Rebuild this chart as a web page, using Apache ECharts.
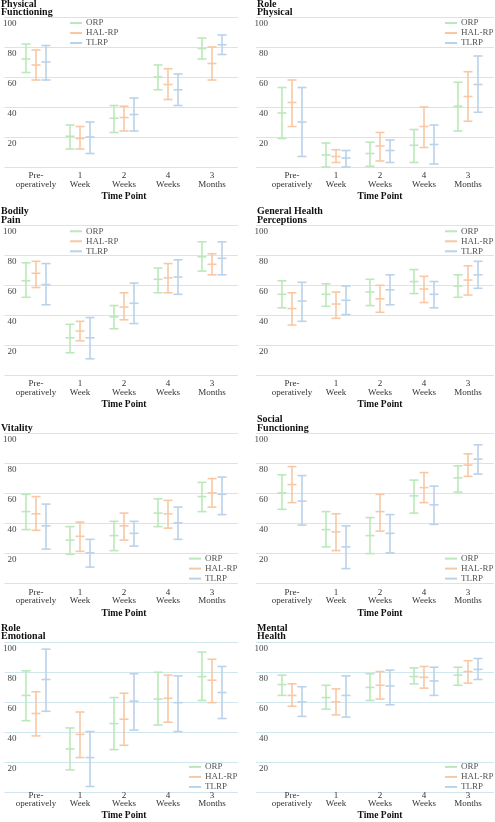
<!DOCTYPE html>
<html><head><meta charset="utf-8">
<script src="https://cdn.jsdelivr.net/npm/echarts@6/dist/echarts.min.js"></script>
<style>html,body{margin:0;padding:0;background:#fff;font-family:'Liberation Serif',serif}#c{width:495px;height:822px}</style>
</head><body><div id="c"></div><script>
// ---------- data ----------
const categories = ['Pre-\noperatively', '1\nWeek', '2\nWeeks', '4\nWeeks', '3\nMonths'];
const groups = ['ORP', 'HAL-RP', 'TLRP'];
const yTicks = [0, 20, 40, 60, 80, 100];
const panelTitles = ['Physical\nFunctioning', 'Role\nPhysical', 'Bodily\nPain', 'General Health\nPerceptions',
  'Vitality', 'Social\nFunctioning', 'Role\nEmotional', 'Mental\nHealth'];
const xAxisName = 'Time Point';

// each entry: [mean - SD, mean, mean + SD] per time point
const physFuncORP  = [[63,72,82],[12,20.5,28],[23,32.5,41],[51.5,60,68],[72,79,86]];
const physFuncHAL  = [[58,68,78],[12,19,27],[24,33,40.5],[45,55,65.5],[58,69,80]];
const physFuncTLRP = [[58,70,81],[9,20,30],[24,35,46],[41,51.5,62],[75,81.5,88]];

const rolePhysORP  = [[19,36,53],[0,8,16],[0.5,9,16.5],[3,14.5,25],[24,40.5,56.5]];
const rolePhysHAL  = [[27,43,58],[3,7,11.5],[4,14,23],[13,27,40],[30.5,47,63.5]];
const rolePhysTLRP = [[7,30,53],[0,6,11],[3,11,18],[2,15,28],[36.5,55,74]];

const bodPainORP  = [[52,63,75],[15,25,34],[31,39,46.5],[55,64,71.5],[69.5,79,89]];
const bodPainHAL  = [[58.5,68,76],[23,29.5,36],[37,45.5,55],[55,65,74.5],[67,74,81]];
const bodPainTLRP = [[47,60.5,74.5],[11,25,38.5],[34.5,48,61.5],[54,65.5,77],[67,78,89]];

const genHealthORP  = [[45,54,63],[46,54,61],[46.5,55.5,64],[54.5,62.5,70.5],[52,59.5,67]];
const genHealthHAL  = [[33.5,44.5,55],[38,47.5,55.5],[42,51,60],[48.5,57.5,66],[53.5,63.5,73]];
const genHealthTLRP = [[36,49.5,62],[40.5,50,59.5],[47,57,67],[45,54,62.5],[58,67,76]];

const vitalityORP  = [[36,48,59.5],[19.5,29,38],[22,32,41.5],[38,47,56.5],[48,58,67.5]];
const vitalityHAL  = [[35.5,46.5,58],[21.5,31.5,41],[29,38.5,47],[37,46.5,55.5],[51,60.5,70]];
const vitalityTLRP = [[23,38.5,53],[11,20.5,29.5],[25,33.5,41.5],[29.5,40.5,51],[46,59.5,71]];

const socFuncORP  = [[49.5,60.5,72.5],[24.5,36,48],[20,32,44],[47,58.5,69],[61,70.5,78.5]];
const socFuncHAL  = [[54,66,78],[22,34.5,46.5],[35,48,59.5],[54,64,74],[71.5,79,86.5]];
const socFuncTLRP = [[39,55,72],[10,24.5,38.5],[20.5,33.5,46],[39.5,52.5,65],[73,83,92.5]];

const roleEmoORP  = [[45.5,63,80],[11.5,26,40.5],[25.5,43.5,61.5],[42.5,60.5,79],[59.5,76,93]];
const roleEmoHAL  = [[35,50.5,65.5],[20,36,51.5],[28.5,46.5,64.5],[44.5,61,77],[58,73.5,88]];
const roleEmoTLRP = [[52,74,95],[0,20,38],[39,59,78],[38,58,76.5],[47,65,83]];

const mentHealthORP  = [[63,70.5,77],[53.5,61.5,70],[59.5,68.5,78],[71,76,82],[70,77,82.5]];
const mentHealthHAL  = [[55.5,63,71],[49.5,58.5,67.5],[60.5,70,79.5],[68,75.5,83],[71.5,79.5,87]];
const mentHealthTLRP = [[48.5,58.5,69],[48,63,76.5],[56.5,69.5,80.5],[63,73,82.5],[74,81,88.5]];

const panelData = [
  [physFuncORP, physFuncHAL, physFuncTLRP],
  [rolePhysORP, rolePhysHAL, rolePhysTLRP],
  [bodPainORP, bodPainHAL, bodPainTLRP],
  [genHealthORP, genHealthHAL, genHealthTLRP],
  [vitalityORP, vitalityHAL, vitalityTLRP],
  [socFuncORP, socFuncHAL, socFuncTLRP],
  [roleEmoORP, roleEmoHAL, roleEmoTLRP],
  [mentHealthORP, mentHealthHAL, mentHealthTLRP]
];

// ---------- style / layout ----------
const font = 'Liberation Serif';
const colors = ['#bbe8bb', '#f8c8a4', '#bad2ea'];
const offsets = [-10, 0, 10];
const gridColor = '#d2e6ee';
const legendPos = ['tl', 'tr', 'tl', 'tr', 'br', 'br', 'br', 'br'];

const option = {
  animation: false,
  backgroundColor: '#fff',
  textStyle: { fontFamily: font },
  title: [], legend: [], grid: [], xAxis: [], yAxis: [], series: []
};

function makeRender(offset, color) {
  return function (params, api) {
    const c = api.value(0);
    const lo = api.coord([c, api.value(1)]);
    const m = api.coord([c, api.value(2)]);
    const hi = api.coord([c, api.value(3)]);
    const x = lo[0] + offset, w = 4.5;
    const st = { stroke: color, lineWidth: 1.6, fill: null };
    const ln = (x1, y1, x2, y2) => ({ type: 'line', shape: { x1, y1, x2, y2 }, style: st });
    return { type: 'group', children: [
      ln(x, lo[1], x, hi[1]),
      ln(x - w, lo[1], x + w, lo[1]),
      ln(x - w, hi[1], x + w, hi[1]),
      ln(x - w, m[1], x + w, m[1])
    ] };
  };
}

for (let p = 0; p < 8; p++) {
  const r = Math.floor(p / 2), c = p % 2;
  const top = 17 + r * 208.3;
  const left = 256 * c;
  const nLines = panelTitles[p].split('\n').length;
  option.title.push({
    text: panelTitles[p], left: left + 1, top: Math.max(0, top - 8.5 * nLines - 1), padding: 0,
    textStyle: { fontFamily: font, fontSize: 10, fontWeight: 'bold', color: '#111', lineHeight: 8.5 }
  });
  // grid A: gridlines + y labels (full width)
  const gA = option.grid.length;
  option.grid.push({ left: left, top: top, width: 238, height: 150 });
  option.xAxis.push({ gridIndex: gA, type: 'value', min: 0, max: 1, show: false });
  option.yAxis.push({
    gridIndex: gA, type: 'value', min: yTicks[0], max: yTicks[yTicks.length - 1], interval: yTicks[1] - yTicks[0],
    axisLine: { show: false }, axisTick: { show: false },
    splitLine: { show: true, lineStyle: { color: gridColor, width: 1 } },
    axisLabel: { inside: true, align: 'right', margin: 12, verticalAlign: 'top', padding: [2, 0, 0, 0],
      showMinLabel: false, fontFamily: font, fontSize: 9, color: '#444' }
  });
  // grid B: categories + data
  const gB = option.grid.length;
  option.grid.push({ left: left + 14, top: top, width: 220, height: 150 });
  option.xAxis.push({
    gridIndex: gB, type: 'category', data: categories,
    axisLine: { show: false }, axisTick: { show: false }, splitLine: { show: false },
    axisLabel: { margin: 4.5, fontFamily: font, fontSize: 9, color: '#333', lineHeight: 8.5, interval: 0 },
    name: xAxisName, nameLocation: 'middle', nameGap: 24.5,
    nameTextStyle: { fontFamily: font, fontSize: 9.5, fontWeight: 'bold', color: '#111' }
  });
  option.yAxis.push({ gridIndex: gB, type: 'value', min: 0, max: 100, show: false });
  for (let g = 0; g < 3; g++) {
    option.series.push({
      type: 'custom', name: groups[g], xAxisIndex: gB, yAxisIndex: gB,
      itemStyle: { color: colors[g] },
      renderItem: makeRender(offsets[g], colors[g]),
      encode: { x: 0, y: [1, 2, 3] },
      data: panelData[p][g].map((d, i) => [i, d[0], d[1], d[2]])
    });
  }
  const lp = legendPos[p];
  const lLeft = left + (lp === 'tl' ? 70 : 189);
  const lTop = top + (lp[0] === 't' ? 6 : 125) - 5;
  option.legend.push({
    orient: 'vertical', left: lLeft, top: lTop, padding: 0, itemGap: 0,
    itemWidth: 12, itemHeight: 2, icon: 'rect', selectedMode: false, data: groups,
    textStyle: { fontFamily: font, fontSize: 9, color: '#555', lineHeight: 10, padding: [0, 0, 0, -1] }
  });
}

const chart = echarts.init(document.getElementById('c'), null, { renderer: 'canvas' });
chart.setOption(option);
</script></body></html>
